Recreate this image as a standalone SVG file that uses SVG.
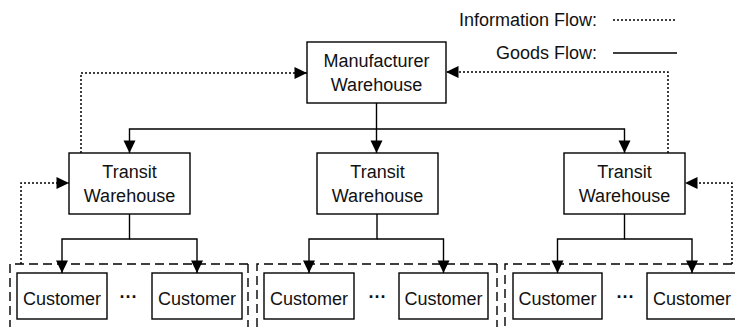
<svg xmlns="http://www.w3.org/2000/svg" width="735" height="327" viewBox="0 0 735 327">
<style>
.box{fill:#fff;stroke:#000;stroke-width:1.4}
.t{font-family:"Liberation Sans",Arial,sans-serif;font-size:18px;fill:#111;text-anchor:middle}
.lg{font-family:"Liberation Sans",Arial,sans-serif;font-size:18px;fill:#111;text-anchor:end}
.solid{fill:none;stroke:#000;stroke-width:1.4}
.dot{fill:none;stroke:#000;stroke-width:1.5;stroke-dasharray:2 2}
.dash{fill:none;stroke:#000;stroke-width:1.4;stroke-dasharray:9 5}
.ell{font-family:"Liberation Sans",Arial,sans-serif;font-size:18px;font-weight:bold;fill:#111;text-anchor:middle}
</style>
<defs>
<marker id="ah" markerUnits="userSpaceOnUse" markerWidth="14" markerHeight="14" viewBox="0 0 14 14" refX="13" refY="7" orient="auto">
<path d="M0.5,1 L13,7 L0.5,13 Z" fill="#000"/>
</marker>
</defs>
<g id="legend">
<text class="lg" x="597" y="26">Information Flow:</text>
<line class="dot" x1="613" y1="20" x2="677" y2="20"/>
<text class="lg" x="597" y="59">Goods Flow:</text>
<line class="solid" x1="613" y1="53" x2="677" y2="53"/>
</g>
<g id="groups">
<path class="dash" d="M248,264 H10 V340"/>
<path class="dash" d="M248,264 V340"/>
<path class="dash" d="M497,264 H257 V340"/>
<path class="dash" d="M497,264 V340"/>
<path class="dash" d="M732,264 H505 V340"/>
</g>
<g id="connectors">
<path class="solid" d="M376.5,103 V153" marker-end="url(#ah)"/>
<path class="solid" d="M376.5,129 H129.5 V153" marker-end="url(#ah)"/>
<path class="solid" d="M376.5,129 H624.5 V153" marker-end="url(#ah)"/>
<path class="solid" d="M129.5,214 V239 H62 V273" marker-end="url(#ah)"/>
<path class="solid" d="M129.5,239 H197 V273" marker-end="url(#ah)"/>
<path class="solid" d="M377,214 V239 H309 V273" marker-end="url(#ah)"/>
<path class="solid" d="M377,239 H443.5 V273" marker-end="url(#ah)"/>
<path class="solid" d="M624.5,214 V239 H557.5 V273" marker-end="url(#ah)"/>
<path class="solid" d="M624.5,239 H692 V273" marker-end="url(#ah)"/>
<path class="dot" d="M81,153 V73 H307" marker-end="url(#ah)"/>
<path class="dot" d="M668,153 V72 H446" marker-end="url(#ah)"/>
<path class="dot" d="M21,264 V183 H69" marker-end="url(#ah)"/>
<path class="dot" d="M732,264 V183 H685" marker-end="url(#ah)"/>
</g>
<g id="manufacturer">
<rect class="box" x="307" y="42" width="139" height="61"/>
<text class="t" x="376.5" y="66.5">Manufacturer</text>
<text class="t" x="376.5" y="90.5">Warehouse</text>
</g>
<g id="transit1">
<rect class="box" x="69" y="153" width="121" height="61"/>
<text class="t" x="129.5" y="177.5">Transit</text>
<text class="t" x="129.5" y="202">Warehouse</text>
</g>
<g id="transit2">
<rect class="box" x="317" y="153" width="121" height="61"/>
<text class="t" x="377.5" y="177.5">Transit</text>
<text class="t" x="377.5" y="202">Warehouse</text>
</g>
<g id="transit3">
<rect class="box" x="564" y="153" width="121" height="61"/>
<text class="t" x="624.5" y="177.5">Transit</text>
<text class="t" x="624.5" y="202">Warehouse</text>
</g>
<g id="customer1a"><rect class="box" x="17" y="273" width="90" height="46"/><text class="t" x="62" y="304.5">Customer</text></g>
<g id="customer1b"><rect class="box" x="152" y="273" width="90" height="46"/><text class="t" x="197" y="304.5">Customer</text></g>
<g id="customer2a"><rect class="box" x="264" y="273" width="90" height="46"/><text class="t" x="309" y="304.5">Customer</text></g>
<g id="customer2b"><rect class="box" x="399" y="273" width="89" height="46"/><text class="t" x="443.5" y="304.5">Customer</text></g>
<g id="customer3a"><rect class="box" x="513" y="273" width="89" height="46"/><text class="t" x="557.5" y="304.5">Customer</text></g>
<g id="customer3b"><rect class="box" x="647" y="273" width="90" height="46"/><text class="t" x="692" y="304.5">Customer</text></g>
<g id="ellipses">
<text class="ell" x="128.5" y="303">···</text>
<text class="ell" x="377.5" y="303">···</text>
<text class="ell" x="625.5" y="303">···</text>
</g>
</svg>
